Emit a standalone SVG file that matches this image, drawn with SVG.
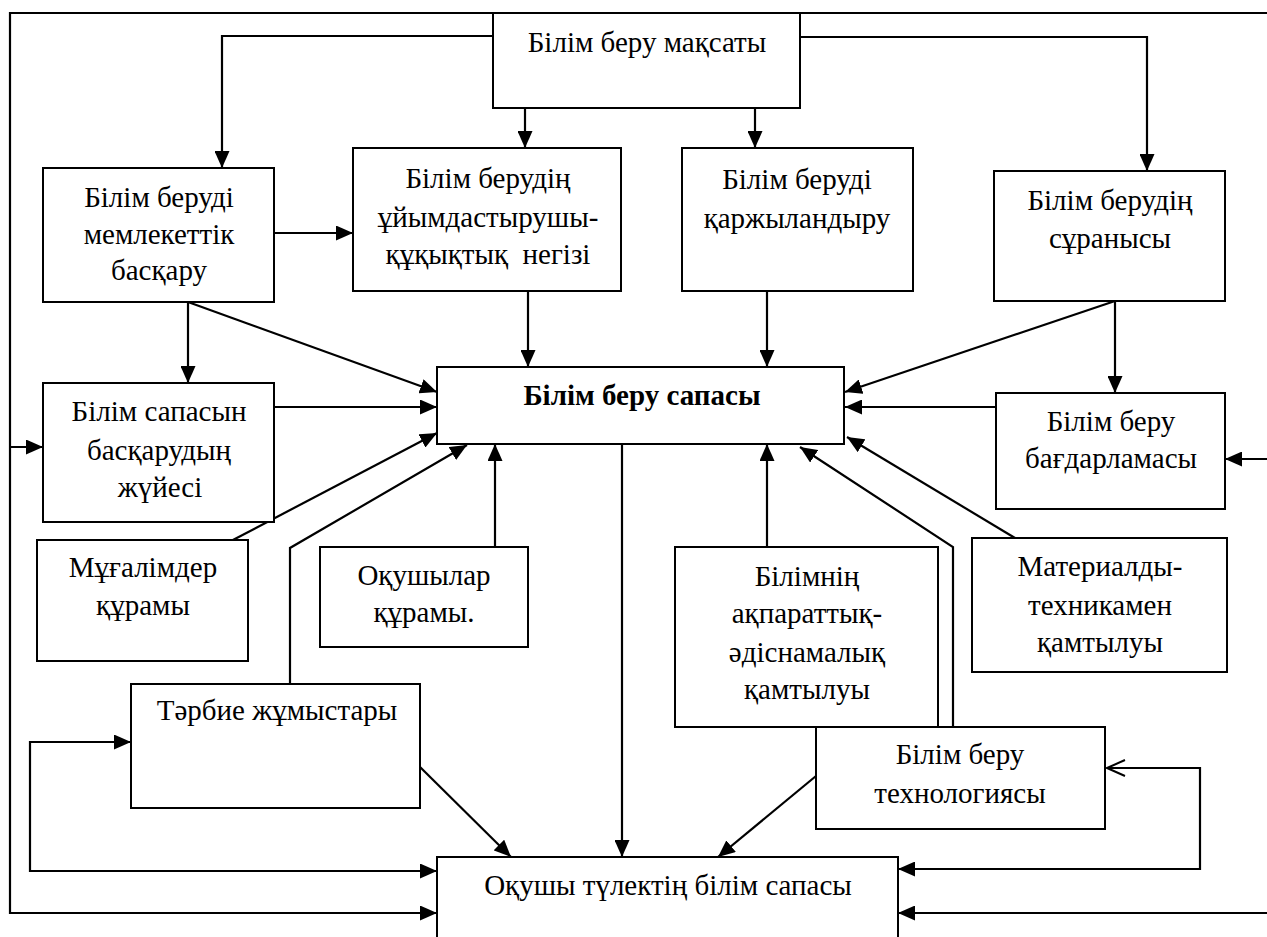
<svg xmlns="http://www.w3.org/2000/svg" width="1267" height="937" viewBox="0 0 1267 937">
<style>
  .box { fill: #fff; stroke: #000; stroke-width: 2; }
  .t { font-family: "Liberation Serif", "Times New Roman", serif; font-size: 29px; fill: #000; text-anchor: middle; }
  .b { font-weight: bold; }
  .c { fill: none; stroke: #000; stroke-width: 2.2; }
  .a { marker-end: url(#arr); }
</style>
<defs>
  <marker id="arr" markerUnits="userSpaceOnUse" markerWidth="17" markerHeight="15" refX="17" refY="7.5" orient="auto-start-reverse">
    <path d="M0,0 L17,7.5 L0,15 z" fill="#000"/>
  </marker>
  <marker id="open" markerUnits="userSpaceOnUse" markerWidth="22" markerHeight="18" refX="20" refY="9" orient="auto">
    <path d="M2,1 L20,9 L2,17" fill="none" stroke="#000" stroke-width="2"/>
  </marker>
</defs>

<g id="connectors">
  <path class="c" d="M1267,13 L10,13 L10,913 L437,913" marker-end="url(#arr)"/>
  <path class="c a" d="M10,447 L43,447"/>
  <path class="c a" d="M493,36 L222,36 L222,168"/>
  <path class="c a" d="M525,67 L525,148"/>
  <path class="c a" d="M755,67 L755,148"/>
  <path class="c a" d="M800,37 L1147,37 L1147,171"/>
  <path class="c a" d="M274,233 L353,233"/>
  <path class="c a" d="M188,302 L188,383"/>
  <path class="c a" d="M188,302 L437,392"/>
  <path class="c a" d="M274,407 L437,407"/>
  <path class="c a" d="M528,291 L528,367"/>
  <path class="c a" d="M767,291 L767,367"/>
  <path class="c a" d="M1115,301 L845,392"/>
  <path class="c a" d="M1115,301 L1115,393"/>
  <path class="c a" d="M996,407 L845,407"/>
  <path class="c a" d="M1267,459 L1225,459"/>
  <path class="c a" d="M231,541 L437,433"/>
  <path class="c a" d="M290,684 L290,548 L467,445"/>
  <path class="c a" d="M495,547 L495,444"/>
  <path class="c a" d="M767,547 L767,444"/>
  <path class="c a" d="M953,727 L953,547 L800,447"/>
  <path class="c a" d="M1015,538 L847,437"/>
  <path class="c a" d="M622,444 L622,857"/>
  <path class="c a" d="M420,767 L511,857"/>
  <path class="c a" d="M816,776 L718,857"/>
  <path class="c" d="M131,742 L30,742 L30,871 L437,871" marker-start="url(#arr)" marker-end="url(#arr)"/>
  <path class="c" d="M898,869 L1200,869 L1200,768 L1107,768" marker-start="url(#arr)" marker-end="url(#open)"/>
  <path class="c a" d="M1267,913 L898,913"/>
</g>

<g id="n-maksat">
  <rect class="box" x="493" y="13" width="307" height="95"/>
  <text class="t" x="647" y="52">Білім беру мақсаты</text>
</g>
<g id="n-memlek">
  <rect class="box" x="43" y="168" width="231" height="134"/>
  <text class="t" x="159" y="207">Білім беруді</text>
  <text class="t" x="159" y="244">мемлекеттік</text>
  <text class="t" x="159" y="280">басқару</text>
</g>
<g id="n-uiym">
  <rect class="box" x="353" y="148" width="268" height="143"/>
  <text class="t" x="488" y="188">Білім берудің</text>
  <text class="t" x="488" y="227">ұйымдастырушы-</text>
  <text class="t" x="488" y="264" xml:space="preserve">құқықтық  негізі</text>
</g>
<g id="n-karzh">
  <rect class="box" x="682" y="148" width="231" height="143"/>
  <text class="t" x="797" y="189">Білім беруді</text>
  <text class="t" x="797" y="228">қаржыландыру</text>
</g>
<g id="n-suranys">
  <rect class="box" x="994" y="171" width="231" height="130"/>
  <text class="t" x="1110" y="210">Білім берудің</text>
  <text class="t" x="1110" y="248">сұранысы</text>
</g>
<g id="n-sapa">
  <rect class="box" x="437" y="367" width="407" height="77"/>
  <text class="t b" x="642" y="405">Білім беру сапасы</text>
</g>
<g id="n-zhuie">
  <rect class="box" x="43" y="383" width="231" height="139"/>
  <text class="t" x="159" y="421">Білім сапасын</text>
  <text class="t" x="159" y="460">басқарудың</text>
  <text class="t" x="160" y="497">жүйесі</text>
</g>
<g id="n-bagdar">
  <rect class="box" x="996" y="393" width="229" height="116"/>
  <text class="t" x="1111" y="431">Білім беру</text>
  <text class="t" x="1111" y="468">бағдарламасы</text>
</g>
<g id="n-mugalim">
  <rect class="box" x="37" y="540" width="211" height="121"/>
  <text class="t" x="143" y="577">Мұғалімдер</text>
  <text class="t" x="143" y="615">құрамы</text>
</g>
<g id="n-okushy">
  <rect class="box" x="320" y="547" width="208" height="100"/>
  <text class="t" x="424" y="585">Оқушылар</text>
  <text class="t" x="424" y="622">құрамы.</text>
</g>
<g id="n-akparat">
  <rect class="box" x="675" y="547" width="263" height="180"/>
  <text class="t" x="807" y="586">Білімнің</text>
  <text class="t" x="807" y="623">ақпараттық-</text>
  <text class="t" x="807" y="662">әдіснамалық</text>
  <text class="t" x="807" y="699">қамтылуы</text>
</g>
<g id="n-material">
  <rect class="box" x="972" y="538" width="255" height="134"/>
  <text class="t" x="1100" y="576">Материалды-</text>
  <text class="t" x="1100" y="615">техникамен</text>
  <text class="t" x="1100" y="652">қамтылуы</text>
</g>
<g id="n-tarbie">
  <rect class="box" x="131" y="684" width="289" height="124"/>
  <text class="t" x="277" y="720">Тәрбие жұмыстары</text>
</g>
<g id="n-tehnolog">
  <rect class="box" x="816" y="727" width="289" height="102"/>
  <text class="t" x="960" y="764">Білім беру</text>
  <text class="t" x="960" y="803">технологиясы</text>
</g>
<g id="n-tulek">
  <rect class="box" x="437" y="857" width="461" height="100"/>
  <text class="t" x="668" y="895">Оқушы түлектің білім сапасы</text>
</g>
</svg>
